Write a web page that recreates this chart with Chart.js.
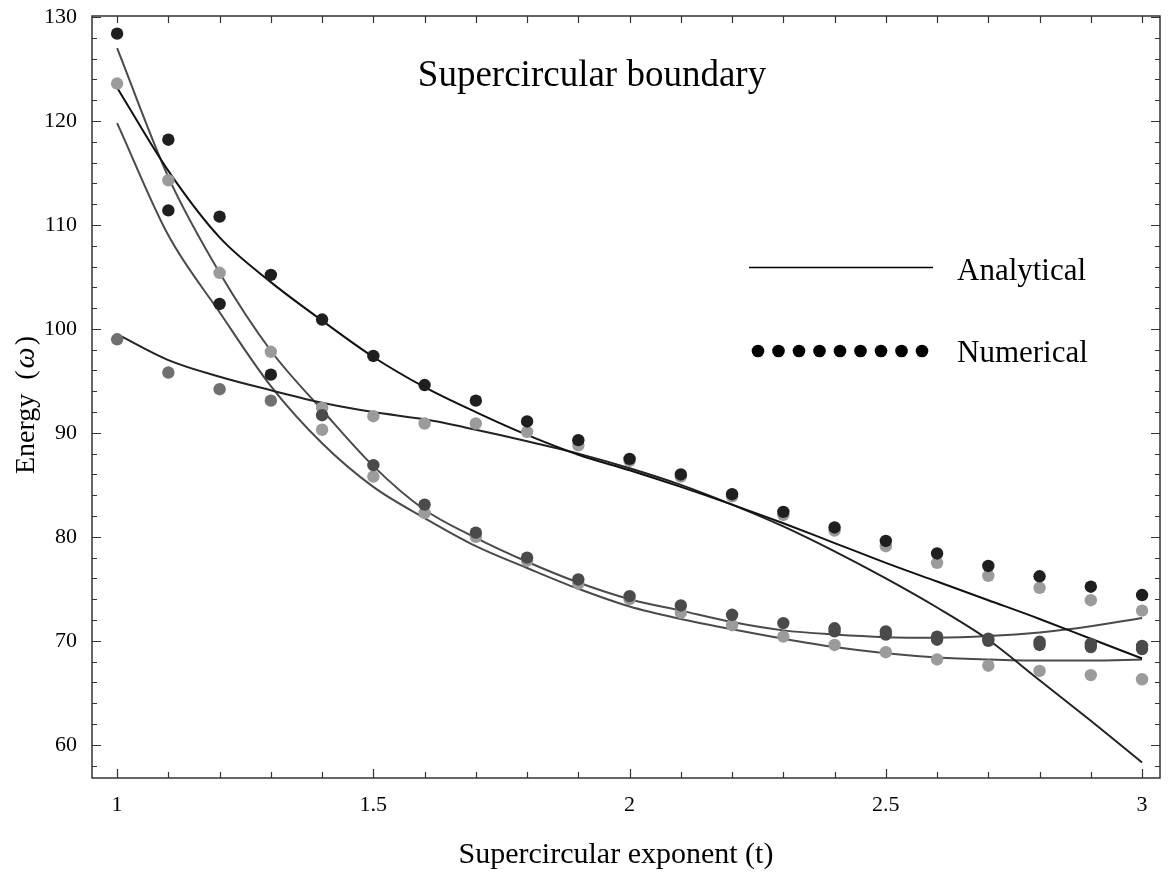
<!DOCTYPE html>
<html>
<head>
<meta charset="utf-8">
<script src="https://cdn.jsdelivr.net/npm/chart.js@4.4.1/dist/chart.umd.min.js"></script>
<style>
  html, body { margin: 0; padding: 0; background: #fff; }
</style>
</head>
<body>
<canvas id="chart" width="1168" height="875"></canvas>
<script>
// supercircular exponent t, sampled every 0.1
const exponents = [1.0, 1.1, 1.2, 1.3, 1.4, 1.5, 1.6, 1.7, 1.8, 1.9, 2.0,
                   2.1, 2.2, 2.3, 2.4, 2.5, 2.6, 2.7, 2.8, 2.9, 3.0];

// analytical curves
const analyticalA = [123.2, 115.2, 108.8, 104.5, 100.8, 97.3, 94.4, 92.0, 89.8, 87.9, 86.4,
                     84.8, 83.1, 81.3, 79.4, 77.5, 75.7, 73.9, 72.1, 70.2, 68.3];
const analyticalB = [99.5, 97.0, 95.4, 94.1, 92.9, 92.0, 91.3, 90.3, 89.2, 88.0, 86.6,
                     85.0, 83.1, 81.0, 78.6, 76.0, 73.2, 70.1, 66.2, 62.3, 58.3];
const analyticalC = [127.0, 114.6, 105.4, 97.9, 92.2, 86.8, 82.6, 79.9, 77.6, 75.6, 74.0,
                     72.9, 71.8, 71.0, 70.6, 70.35, 70.3, 70.45, 70.8, 71.4, 72.2];
const analyticalD = [119.8, 109.0, 101.6, 94.5, 89.0, 84.8, 81.8, 79.1, 77.0, 75.0, 73.3,
                     72.1, 71.1, 70.2, 69.4, 68.8, 68.4, 68.2, 68.1, 68.1, 68.2];

// numerical points
const numTop = [128.4, 118.2, 110.8, 105.2, 100.9, 97.4, 94.6, 93.1, 91.1, 89.3, 87.5,
                86.0, 84.1, 82.4, 80.9, 79.6, 78.4, 77.2, 76.2, 75.2, 74.4];
const numDark = [null, 111.4, 102.4, 95.6, 91.7, 86.9, 83.1, 80.4, 78.0, 75.9, 74.3,
                 73.4, 72.5, 71.7, 71.2, 70.9, 70.4, 70.2, 69.9, 69.7, 69.5];
const numGray = [99.0, 95.8, 94.2, 93.1, null, null, null, null, null, null, null,
                 null, null, null, 70.9, 70.6, 70.1, 70.0, 69.6, 69.4, 69.2];
const numUpperLight = [123.6, 114.3, 105.4, 97.8, 92.4, 91.6, 90.9, 90.9, 90.1, 88.8, 87.3,
                       85.8, 83.9, 82.1, 80.6, 79.1, 77.5, 76.25, 75.1, 73.9, 72.9];
const numLowerLight = [null, null, null, null, 90.3, 85.8, 82.3, 80.0, 77.7, 75.5, 74.0,
                       72.7, 71.5, 70.4, 69.6, 68.9, 68.2, 67.6, 67.1, 66.7, 66.3];

const xTicks = [1, 1.5, 2, 2.5, 3];
const yTicks = [60, 70, 80, 90, 100, 110, 120, 130];

const SERIF = "'Liberation Serif', 'DejaVu Serif', serif";

function pts(values) {
  return exponents.map((t, i) => ({ x: t, y: values[i] }));
}

function dots(values, color) {
  return {
    data: pts(values),
    showLine: false,
    pointRadius: 6.2,
    pointBorderWidth: 0,
    pointBackgroundColor: color,
    pointBorderColor: color,
  };
}

function curve(values, color) {
  return {
    data: pts(values),
    showLine: true,
    borderColor: color,
    borderWidth: 2,
    pointRadius: 0,
    cubicInterpolationMode: 'monotone',
    fill: false,
  };
}

// inward ticks, frame, title, legend, axis titles
const decorations = {
  id: 'decorations',
  beforeDraw(chart) {
    const c = chart.ctx;
    c.save();
    c.fillStyle = '#fff';
    c.fillRect(0, 0, chart.width, chart.height);
    c.restore();
  },
  afterDraw(chart) {
    const c = chart.ctx;
    const a = chart.chartArea;
    const xs = chart.scales.x, ys = chart.scales.y;
    c.save();

    c.strokeStyle = '#333';
    c.lineWidth = 1.5;
    c.strokeRect(a.left, a.top, a.right - a.left, a.bottom - a.top);

    c.lineWidth = 1.2;
    c.beginPath();
    for (let v = 58; v <= 130; v += 2) {
      const y = Math.round(ys.getPixelForValue(v)) + 0.5;
      const major = v % 10 === 0;
      c.moveTo(a.left, y); c.lineTo(a.left + (major ? 9 : 5), y);
      c.moveTo(a.right, y); c.lineTo(a.right - (major ? 9 : 5), y);
    }
    for (let k = 10; k <= 30; k++) {
      const x = Math.round(xs.getPixelForValue(k / 10)) + 0.5;
      const major = k % 5 === 0;
      c.moveTo(x, a.bottom); c.lineTo(x, a.bottom - (major ? 9 : 6));
      c.moveTo(x, a.top); c.lineTo(x, a.top + 7);
    }
    c.stroke();

    c.fillStyle = '#000';
    c.textBaseline = 'alphabetic';

    // title inside the plot
    c.font = '37px ' + SERIF;
    c.textAlign = 'center';
    c.fillText('Supercircular boundary', 592, 86);

    // legend
    c.font = '31px ' + SERIF;
    c.textAlign = 'left';
    c.strokeStyle = '#000';
    c.lineWidth = 1.5;
    c.beginPath();
    c.moveTo(749, 267.5); c.lineTo(933, 267.5);
    c.stroke();
    c.fillText('Analytical', 957, 280);
    for (let i = 0; i < 9; i++) {
      c.beginPath();
      c.arc(758 + i * 20.5, 351, 6.3, 0, Math.PI * 2);
      c.fill();
    }
    c.fillText('Numerical', 957, 362);

    // x axis title
    c.font = '30px ' + SERIF;
    c.textAlign = 'center';
    c.fillText('Supercircular exponent (t)', 616, 863);

    // y axis title, with italic omega
    c.translate(34, 405);
    c.rotate(-Math.PI / 2);
    const size = 28;
    c.font = size + 'px ' + SERIF;
    const p1 = 'Energy  (', p3 = ')';
    const w1 = c.measureText(p1).width;
    const w3 = c.measureText(p3).width;
    c.font = 'italic ' + (size + 2) + 'px ' + SERIF;
    const w2 = c.measureText('\u03c9').width + 4;
    const x0 = -(w1 + w2 + w3) / 2;
    c.textAlign = 'left';
    c.font = size + 'px ' + SERIF;
    c.fillText(p1, x0, 0);
    c.font = 'italic ' + (size + 2) + 'px ' + SERIF;
    c.fillText('\u03c9', x0 + w1 + 2, 0);
    c.font = size + 'px ' + SERIF;
    c.fillText(p3, x0 + w1 + w2, 0);

    c.restore();
  }
};

const BLACK = '#1f1f1f', DARK = '#4a4a4a', GRAY = '#707070', LIGHT = '#9b9b9b';

const darkColors = numDark.map((v, i) => (i < 4 ? BLACK : DARK));
const grayColors = numGray.map((v, i) => (i < 4 ? GRAY : DARK));

new Chart(document.getElementById('chart'), {
  type: 'scatter',
  data: {
    datasets: [
      dots(numTop, BLACK),
      dots(numDark, darkColors),
      dots(numGray, grayColors),
      dots(numUpperLight, LIGHT),
      dots(numLowerLight, LIGHT),
      curve(analyticalA, '#111'),
      curve(analyticalB, '#222'),
      curve(analyticalC, '#4a4a4a'),
      curve(analyticalD, '#4a4a4a'),
    ],
  },
  options: {
    responsive: false,
    animation: false,
    devicePixelRatio: 1,
    layout: { padding: { top: 16, right: 8, left: 0, bottom: 0 } },
    plugins: {
      legend: { display: false },
      tooltip: { enabled: false },
    },
    scales: {
      x: {
        type: 'linear',
        min: 0.951,
        max: 3.035,
        afterFit: (s) => { s.height = 97; s.paddingLeft = 0; s.paddingRight = 0; },
        afterBuildTicks: (s) => { s.ticks = xTicks.map((v) => ({ value: v })); },
        grid: { display: false, drawTicks: false },
        border: { display: false },
        ticks: {
          padding: 14,
          maxRotation: 0,
          color: '#000',
          font: { family: SERIF, size: 22 },
          callback: (v) => String(+v.toFixed(2)),
        },
      },
      y: {
        min: 56.8,
        max: 130.1,
        afterFit: (s) => { s.width = 92; s.paddingTop = 0; s.paddingBottom = 0; },
        afterBuildTicks: (s) => { s.ticks = yTicks.map((v) => ({ value: v })); },
        grid: { display: false, drawTicks: false },
        border: { display: false },
        ticks: {
          padding: 15,
          color: '#000',
          font: { family: SERIF, size: 22 },
        },
      },
    },
  },
  plugins: [decorations],
});
</script>
</body>
</html>
